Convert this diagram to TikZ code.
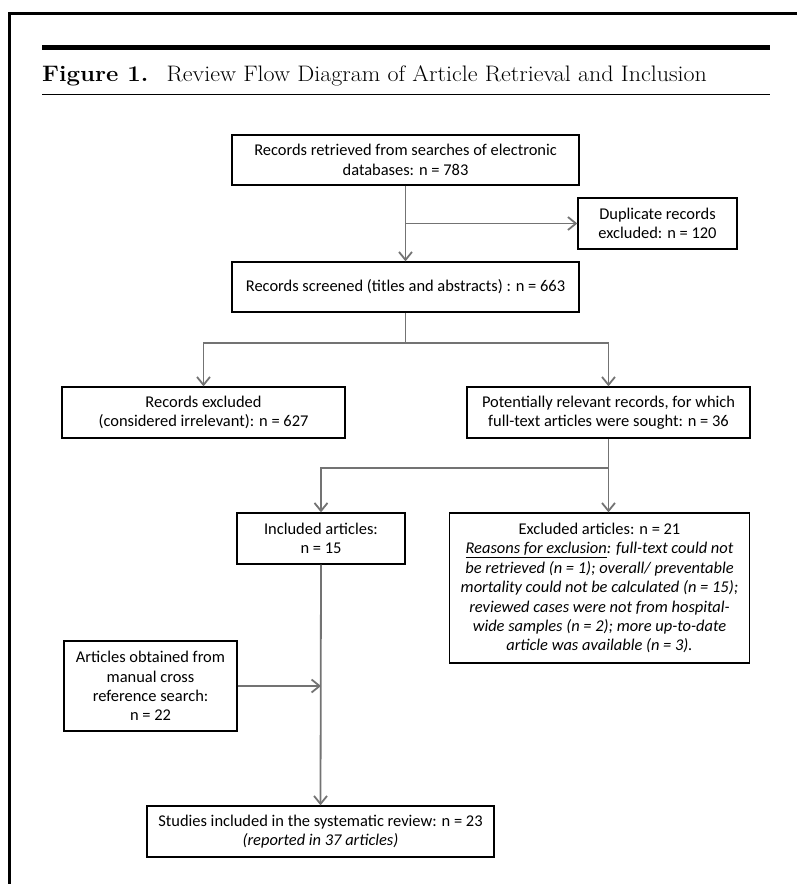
\documentclass[tikz,border=0pt]{standalone}
\usepackage{fontspec}
\newfontfamily\calfont{Carlito}
\usetikzlibrary{arrows.meta}
\definecolor{arrgray}{RGB}{115,115,115}
\begin{document}
\begin{tikzpicture}[x=1bp,y=-1bp,
  box/.style={draw=black,line width=1.3bp,fill=white,align=center,inner sep=0pt,
    font=\calfont\fontsize{16.5}{19.5}\selectfont},
  arr/.style={draw=arrgray,line width=1.8bp,-{Straight Barb[length=8bp,width=13bp]}},
  ln/.style={draw=arrgray,line width=1.8bp}]
\useasboundingbox (0,0) rectangle (797,884);
% frame
\draw[line width=3bp,line join=miter] (797,13) -- (9,13) -- (9,884);
\draw[line width=5bp] (42,47.5) -- (770,47.5);
\draw[line width=1.2bp] (42,94.5) -- (770,94.5);
\node[anchor=base west,inner sep=0pt,font=\fontsize{22.5}{26}\selectfont] (title) at (42,81)
  {\scalebox{1.07}[1]{\textbf{Figure 1.}\hspace{17pt}Review Flow Diagram of Article Retrieval and Inclusion}};
% boxes
\node[box,minimum width=347bp,minimum height=50bp] (b1) at (405.5,160)
  {Records retrieved from searches of electronic\\databases: n = 783};
\node[box,minimum width=159bp,minimum height=51bp] (dup) at (657.5,223.5)
  {Duplicate records\\excluded: n = 120};
\node[box,minimum width=347bp,minimum height=50bp] (b2) at (405.5,287)
  {Records screened (titles and abstracts) : n = 663};
\node[box,minimum width=283bp,minimum height=51bp] (exc) at (203.5,412.5)
  {Records excluded\\(considered irrelevant): n = 627};
\node[box,minimum width=283bp,minimum height=51bp] (pot) at (608.5,412.5)
  {Potentially relevant records, for which\\full-text articles were sought: n = 36};
\node[box,minimum width=168bp,minimum height=51bp] (inc) at (321,538.5)
  {Included articles:\\n = 15};
\node[box,minimum width=300bp,minimum height=150bp] (excl) at (599.5,588)
  {Excluded articles: n = 21\\
   \textit{\underline{Reasons for exclusion}: full-text could not}\\
   \textit{be retrieved (n = 1); overall/ preventable}\\
   \textit{mortality could not be calculated (n = 15);}\\
   \textit{reviewed cases were not from hospital-}\\
   \textit{wide samples (n = 2); more up-to-date}\\
   \textit{article was available (n = 3).}};
\node[box,minimum width=173bp,minimum height=90bp] (art) at (150.5,686)
  {Articles obtained from\\manual cross\\reference search:\\n = 22};
\node[box,minimum width=347bp,minimum height=51bp] (stu) at (320.5,831.5)
  {Studies included in the systematic review: n = 23\\\textit{(reported in 37 articles)}};
% junctions
\coordinate (j1) at (405.5,343);
\coordinate (j2) at (608.5,468);
% connectors
\draw[arr] (b1.south) -- (b2.north);
\draw[arr] (b1.south |- dup.west) -- (dup.west);
\draw[ln] (b2.south) -- (j1);
\draw[arr] (j1) -| (exc.north);
\draw[arr] (j1) -| (pot.north);
\draw[ln] (pot.south) -- (j2);
\draw[arr] (j2) -| (inc.north);
\draw[arr] (j2) -- (pot.south |- excl.north);
\draw[arr] (inc.south) -- (stu.north);
\draw[arr] (art.east) -- (inc.south |- art.east);
\end{tikzpicture}
\end{document}
